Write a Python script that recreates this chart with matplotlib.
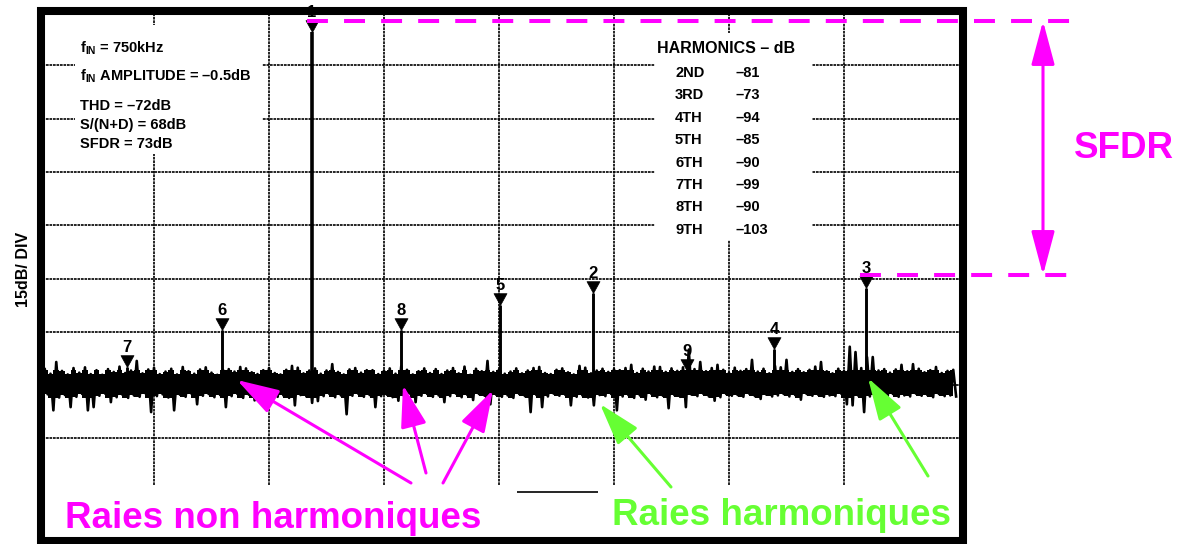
import numpy as np
import matplotlib.pyplot as plt
from matplotlib.patches import Rectangle
from matplotlib.lines import Line2D

plt.rcParams['font.family'] = ['Liberation Sans', 'DejaVu Sans']
plt.rcParams['mathtext.fontset'] = 'custom'
plt.rcParams['mathtext.rm'] = 'Liberation Sans'
plt.rcParams['mathtext.bf'] = 'Liberation Sans:bold'

harm_labels = ['1', '2', '3', '4', '5', '6', '7', '8', '9']
harm_freq = [742, 1505, 2247, 1997, 1253, 497, 239, 984, 1761]
harm_level = [-5.6, -79.1, -77.7, -94.8, -82.5, -89.5, -99.9, -89.5, -101.0]

# plancher de bruit : crete haute / crete basse par case
noise_top = [
    -101.2, -100.4, -101.8, -98.5, -101.0, -102.0, -100.2, -101.5, -100.0, -101.9,
    -100.8, -102.1, -100.5, -101.3, -99.8, -101.6, -100.9, -98.2, -101.7, -100.6,
    -100.1, -101.9, -101.2, -100.4, -102.0, -99.9, -101.1, -101.8, -100.6, -100.0,
    -101.5, -102.1, -100.7, -100.5, -101.2, -99.9, -100.3, -101.4, -101.9, -100.8,
    -100.2, -101.6, -102.0, -100.7, -99.6, -100.1, -101.7, -100.9, -100.3, -101.8,
    -100.9, -99.1, -101.3, -102.0, -100.6, -100.2, -101.5, -100.8, -100.8, -101.9,
    -100.9, -100.3, -101.8, -99.7, -100.7, -102.0, -101.1, -100.3, -101.6, -100.5,
    -101.9, -100.9, -100.2, -101.7, -99.8, -102.1, -100.4, -101.1, -98.2, -101.3,
    -100.6, -101.8, -101.2, -100.3, -101.7, -100.9, -100.2, -99.9, -101.6, -101.9,
    -100.7, -100.3, -101.4, -102.0, -99.6, -100.1, -101.7, -100.9, -100.4, -101.3,
    -100.5, -100.8, -100.2, -99.3, -101.6, -100.4, -101.2, -99.8, -99.9, -101.3,
    -100.3, -101.0, -100.0, -95.0, -100.5, -98.5, -101.1, -100.2, -99.3, -100.7,
    -101.5, -100.1, -101.0, -100.5, -97.9, -101.2, -100.4, -101.7, -99.6, -100.0,
    -97.9, -101.3, -100.5, -101.4, -100.7, -99.8, -98.5, -101.1, -101.7, -100.4,
    -101.0, -94.2, -95.7, -100.2, -97.1, -97.1, -100.9, -100.5, -101.5, -100.6,
    -99.3, -101.1, -99.1, -100.4, -101.4, -100.8, -99.9, -101.6, -101.0, -100.7,
]
noise_bot = [
    -108.2, -107.6, -112.1, -108.5, -107.8, -111.2, -108.3, -107.5, -112.1, -111.2,
    -108.0, -107.4, -109.8, -108.4, -107.7, -108.6, -107.9, -108.3, -107.3, -112.6,
    -108.1, -107.6, -108.5, -112.1, -107.7, -108.3, -107.4, -110.4, -108.0, -107.5,
    -108.4, -107.8, -111.2, -108.1, -107.5, -108.6, -107.7, -109.3, -107.3, -108.0,
    -107.6, -108.3, -107.9, -108.6, -110.7, -107.8, -108.2, -110.0, -109.5, -108.1,
    -107.5, -108.4, -107.9, -113.2, -108.0, -107.4, -108.3, -107.8, -111.2, -108.1,
    -107.7, -108.4, -109.4, -108.2, -107.4, -109.8, -108.0, -107.5, -108.3, -107.9,
    -109.8, -108.1, -107.4, -108.4, -107.8, -109.2, -107.5, -108.0, -110.4, -107.7,
    -108.3, -107.9, -108.6, -107.5, -108.1, -112.6, -107.8, -111.2, -108.2, -107.4,
    -108.0, -107.7, -110.7, -108.3, -107.9, -108.5, -110.7, -107.8, -108.1, -107.5,
    -112.1, -108.2, -107.8, -108.6, -107.9, -109.1, -107.5, -108.4, -108.0, -111.5,
    -107.8, -108.3, -111.2, -107.7, -108.1, -107.4, -108.2, -109.4, -108.4, -107.5,
    -108.0, -107.8, -108.3, -107.4, -108.1, -108.9, -107.7, -108.2, -107.9, -107.5,
    -108.2, -107.8, -109.1, -107.5, -108.0, -107.7, -108.3, -107.9, -108.1, -107.4,
    -110.4, -110.7, -108.0, -112.6, -108.2, -107.8, -108.1, -109.8, -107.5, -108.3,
    -107.9, -108.2, -107.4, -108.0, -107.8, -108.4, -107.5, -108.1, -107.9, -108.2,
]

info_lines = [r'f$_\mathbf{IN}$ = 750kHz', r'f$_\mathbf{IN}$ AMPLITUDE = –0.5dB',
              'THD = –72dB', 'S/(N+D) = 68dB', 'SFDR = 73dB']
table_rows = ['2ND', '3RD', '4TH', '5TH', '6TH', '7TH', '8TH', '9TH']
table_vals = ['–81', '–73', '–94', '–85', '–90', '–99', '–90', '–103']

MAG = '#ff00ff'
GRN = '#66ff33'
W, H = 1186, 544


def fp(x, y):
    # pixels de l'image (origine en haut a gauche) -> fraction de figure
    return x / W, 1 - y / H


fig = plt.figure(figsize=(W / 100, H / 100), dpi=100)
ax = fig.add_axes([39 / W, 1 - 545 / H, 920 / W, 533 / H])
ax.set_xlim(0, 2500)
ax.set_ylim(-150, 0)
ax.set_axis_off()

# grille de l'analyseur
grid_kw = dict(color='black', lw=1.2, linestyles=[(0, (1.6, 0.5))], zorder=1)
ax.hlines([-15, -30, -45, -60, -75, -90, -105, -120], 0, 2500, **grid_kw)
ax.vlines([312.5, 625, 937.5, 1250, 1562.5, 1875, 2187.5], -133, 0, **grid_kw)
ax.hlines(-135, 1299, 1519, color='black', lw=1.2, zorder=1)

# bruit
n = len(noise_top)
step = 2500 / n
f_top = np.arange(n) * step
fx = np.empty(2 * n)
fy = np.empty(2 * n)
fx[0::2] = f_top
fx[1::2] = f_top + step / 2
fy[0::2] = noise_top
fy[1::2] = noise_bot
# coeur plein de la bande de bruit + pics
core_hi = np.clip(noise_top, -102.0, -100.8)
core_lo = np.clip(noise_bot, -108.6, -107.5)
ax.fill_between(f_top, core_hi, core_lo, step='mid', color='black', lw=0, zorder=2)
ax.plot(fx, fy, color='black', lw=1.9, zorder=2)

# raies
widths = [2.6] + [2.1] * 8
ax.vlines(harm_freq, harm_level, -106, colors='black', lw=widths, zorder=2)
tri = [(0, 0), (-0.55, 1), (0.55, 1), (0, 0)]
ax.plot(harm_freq, harm_level, ls='none', marker=tri, ms=17, color='black',
        mew=0.5, clip_on=False, zorder=3)
for lbl, f, lv in zip(harm_labels, harm_freq, harm_level):
    ax.annotate(lbl, (f, lv), xytext=(0, 8.8), textcoords='offset points',
                ha='center', va='bottom', fontsize=12, fontweight='bold',
                annotation_clip=False)

# caches blancs sous les textes
fig.add_artist(Rectangle(fp(75, 154), 187 / W, 129 / H, transform=fig.transFigure,
                         fc='white', ec='none', zorder=1))
fig.add_artist(Rectangle(fp(655, 240), 157 / W, 207 / H, transform=fig.transFigure,
                         fc='white', ec='none', zorder=1))
# cadre epais
fig.add_artist(Rectangle(fp(41, 541), 922 / W, 530 / H, transform=fig.transFigure,
                         fc='none', ec='black', lw=5.8, zorder=1.5))

for txt, yb in zip(info_lines, [52, 80, 110, 129, 148]):
    fig.text(*fp(80, yb), txt, fontsize=10.5, fontweight='bold', va='baseline')

fig.text(*fp(657, 53), 'HARMONICS – dB', fontsize=11.5, fontweight='bold', va='baseline')
for i, (r, v) in enumerate(zip(table_rows, table_vals)):
    yb = 77 + 22.4 * i
    fig.text(*fp(675, yb), r, fontsize=10.5, fontweight='bold', va='baseline')
    fig.text(*fp(735, yb), v, fontsize=10.5, fontweight='bold', va='baseline')

fig.text(*fp(24, 269), '15dB/ DIV', rotation=90, fontsize=11.5, fontweight='bold',
         ha='center', va='center')

# annotations SFDR
dash = (0, (5.2, 4.0))
fig.add_artist(Line2D([307 / W, 1070 / W], [1 - 21 / H] * 2, color=MAG, lw=2.9,
                      ls=dash, transform=fig.transFigure, zorder=4))
fig.add_artist(Line2D([860 / W, 1070 / W], [1 - 275 / H] * 2, color=MAG, lw=2.9,
                      ls=dash, transform=fig.transFigure, zorder=4))
ax.annotate('', xy=(1043, H - 21), xytext=(1043, H - 275),
            xycoords='figure pixels', textcoords='figure pixels',
            arrowprops=dict(arrowstyle='<|-|>,head_length=2.7,head_width=0.72',
                            mutation_scale=10, color=MAG, lw=2.2,
                            shrinkA=0, shrinkB=0))
fig.text(*fp(1074, 158), 'SFDR', color=MAG, fontsize=26.5, fontweight='bold',
         va='baseline')

# fleches vers les raies
arrows = [((411, 483), (237, 380), MAG), ((426, 473), (403, 385), MAG),
          ((443, 483), (493, 390), MAG), ((671, 487), (600, 404), GRN),
          ((928, 476), (868, 378), GRN)]
for (x0, y0), (x1, y1), c in arrows:
    ax.annotate('', xy=(x1, H - y1), xytext=(x0, H - y0),
                xycoords='figure pixels', textcoords='figure pixels',
                arrowprops=dict(arrowstyle='-|>,head_length=2.6,head_width=0.8',
                                mutation_scale=10, color=c, lw=2.2,
                                shrinkA=0, shrinkB=0))

fig.text(*fp(65, 528), 'Raies non harmoniques', color=MAG, fontsize=26.5,
         fontweight='bold', va='baseline')
fig.text(*fp(612, 525), 'Raies harmoniques', color=GRN, fontsize=26.5,
         fontweight='bold', va='baseline')

fig.savefig('out.png', dpi=100)
